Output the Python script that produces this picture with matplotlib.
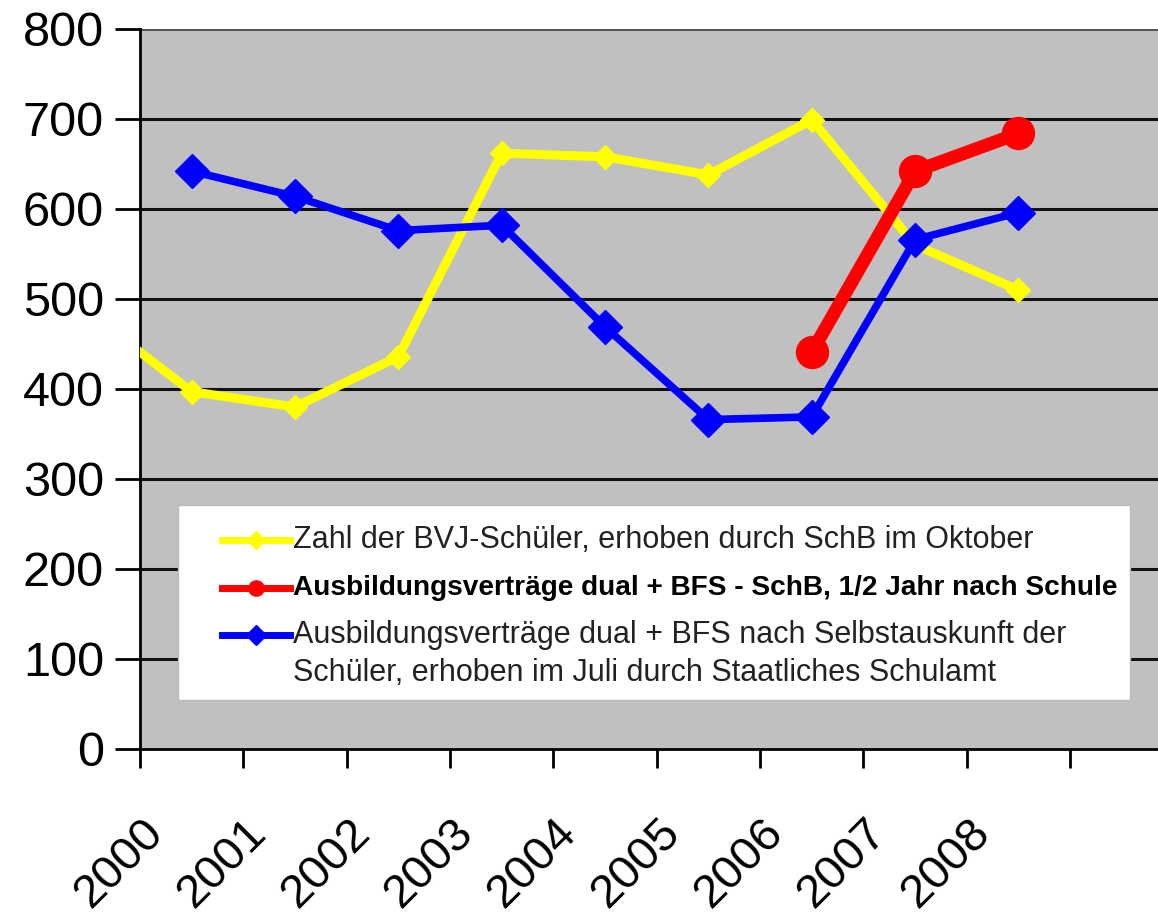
import matplotlib
matplotlib.use("Agg")
import matplotlib.pyplot as plt
from matplotlib.ticker import FixedLocator
from matplotlib.patches import Rectangle
from matplotlib.lines import Line2D

years = ["2000", "2001", "2002", "2003", "2004", "2005", "2006", "2007", "2008"]
# yellow series, including an earlier (1999) value that runs off the left edge
bvj_x = [-1, 0, 1, 2, 3, 4, 5, 6, 7, 8]
bvj = [485, 397, 380, 436, 662, 658, 638, 699, 560, 510]
red_x = [6, 7, 8]
red = [441, 642, 684]
blue_x = [0, 1, 2, 3, 4, 5, 6, 7, 8]
blue = [642, 614, 576, 582, 469, 366, 369, 566, 596]

labels = [
    ["Zahl der BVJ-Schüler, erhoben durch SchB im Oktober"],
    ["Ausbildungsverträge dual + BFS - SchB, 1/2 Jahr nach Schule"],
    ["Ausbildungsverträge dual + BFS nach Selbstauskunft der",
     "Schüler, erhoben im Juli durch Staatliches Schulamt"],
]

plt.rcParams['font.family'] = ['Liberation Sans', 'DejaVu Sans']

fig = plt.figure(figsize=(11.58, 9.14), dpi=100)
W, H = 1158, 914
ax = fig.add_axes([140 / W, (914 - 749) / H, (1158 - 140) / W, (749 - 29) / H])
ax.set_facecolor("#c0c0c0")

ax.set_ylim(0, 800)
ax.set_xlim(-0.5, 9.35)

ax.set_yticks(range(0, 801, 100))
for v in range(100, 801, 100):
    ax.axhline(v, color="#111111" if v < 800 else "#555555", lw=2.2, zorder=1)

styles = [
    dict(color="#ffff00", marker="D"),
    dict(color="#ff0000", marker="o"),
    dict(color="#0000ff", marker="D"),
]
ax.plot(bvj_x, bvj, lw=6.5, ms=12, zorder=3, **styles[0])
ax.plot(red_x, red, lw=9.5, ms=23, zorder=4, **styles[1])
ax.plot(blue_x, blue, lw=5.5, ms=17, zorder=3, **styles[2])

for s in ["top", "right"]:
    ax.spines[s].set_visible(False)
ax.spines["left"].set_linewidth(2)
ax.spines["bottom"].set_linewidth(2)

ax.xaxis.set_major_locator(FixedLocator([i - 0.5 for i in range(10)]))
ax.xaxis.set_minor_locator(FixedLocator([i - 0.49 for i in range(len(years))]))
ax.set_xticklabels([])
ax.set_xticklabels(years, minor=True, rotation=45, ha="right",
                   rotation_mode="anchor", fontsize=34)
ax.tick_params(axis="x", which="major", length=14, width=2, direction="out")
ax.tick_params(axis="x", which="minor", length=0, pad=44)
ax.tick_params(axis="y", length=18, width=2, direction="out", labelsize=35, pad=8)

# legend box (drawn by hand so the layout matches the original)
box = Rectangle((178 / W, (914 - 700) / H), (1130 - 178) / W, 195 / H,
                transform=fig.transFigure, facecolor="white",
                edgecolor="#bbbbbb", lw=1, zorder=5)
fig.patches.append(box)

row_y = [540, 588, 635]
line_gap = 38
msizes = [9, 11, 10]
for st, lab, y, ms, i in zip(styles, labels, row_y, msizes, range(3)):
    fig.add_artist(Line2D([222 / W, 290 / W], [(914 - y) / H] * 2,
                          transform=fig.transFigure, lw=5, ms=ms,
                          markevery=[], zorder=6, **st))
    fig.add_artist(Line2D([256 / W], [(914 - y) / H],
                          transform=fig.transFigure, lw=0, ms=ms,
                          zorder=7, **st))
    for k, line in enumerate(lab):
        fig.text(293 / W, (914 - y - k * line_gap) / H, line,
                 fontsize=20.2 if i == 1 else 22,
                 fontweight="bold" if i == 1 else "normal",
                 color="black" if i == 1 else "#222222",
                 va="center", ha="left", zorder=7)

fig.savefig("out.png", dpi=100)
